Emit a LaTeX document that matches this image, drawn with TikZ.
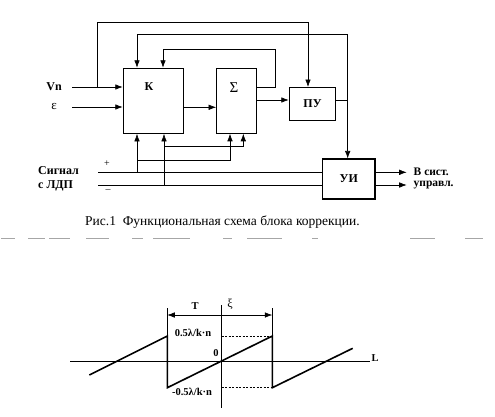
\documentclass[tikz,border=0pt]{standalone}
\usepackage{fontspec}
\setmainfont{Liberation Serif}
\usetikzlibrary{arrows.meta, positioning}

\begin{document}
\begin{tikzpicture}[
    x=1pt, y=-1pt,
    block/.style={rectangle, draw=black, line width=1.1pt, inner sep=0pt, font=\bfseries\fontsize{12}{13}\selectfont},
    wire/.style={line width=0.6pt},
    arrow/.style={wire, -{Latex[length=7.5pt,width=5.5pt]}},
    lbl/.style={font=\bfseries\fontsize{12}{13}\selectfont, inner sep=1pt},
    outlbl/.style={font=\bfseries\fontsize{11.5}{12}\selectfont, inner sep=0pt},
    glbl/.style={font=\bfseries\fontsize{10.5}{12}\selectfont, inner sep=1pt},
    saw/.style={line width=1.6pt},
    axis/.style={line width=0.6pt}
]
\useasboundingbox (0,0) rectangle (495,416);

% === Blocks ===
\node[block, minimum width=60pt, minimum height=65pt] (k) at (153.3,100.8) {};
\node[lbl] (klbl) at (149,87) {К};
\node[block, minimum width=40pt, minimum height=65pt] (sum) at (236.7,100.7) {};
\node[lbl, font=\fontsize{15}{16}\selectfont] (sumlbl) at (234,88) {Σ};
\node[block, minimum width=46.4pt, minimum height=32.5pt] (pu) at (312.5,103.8) {ПУ};
\node[block, minimum width=52.3pt, minimum height=40pt] (ui) at (348.8,179) {УИ};

% === Inputs ===
\node[lbl, anchor=east] (vnlbl) at (63,87) {Vn};
\node[lbl, font=\fontsize{13}{14}\selectfont] (epslbl) at (54,106) {ε};
\coordinate (vn) at (72,87);
\coordinate (eps) at (72,107);
\coordinate (vnb) at (97,87);
\draw[arrow] (vn) -- (vn -| k.west);
\draw[arrow] (eps) -- (eps -| k.west);
\draw[arrow] (vnb) -- (97,22) -| ([xshift=-4.5pt]pu.north);

% === Forward path ===
\draw[arrow] (k.east |- 0,107.3) -- (sum.west |- 0,107.3);
\draw[arrow] (sum.east |- 0,100) -- (pu.west |- 0,100);

% Sigma feedback to K
\coordinate (sfb) at (275.7,49);
\draw[arrow] (sum.east |- 0,87) -| (sfb) -| ([xshift=9.7pt]k.north);

% PU output to K and UI
\coordinate (puout) at (347.7,100);
\draw[wire] (pu.east |- puout) -- (puout);
\draw[arrow] (puout) -- (puout |- ui.north);
\draw[arrow] (puout) -- (347.7,34) -| ([xshift=-16.3pt]k.north);

% === Signal from LDP ===
\node[lbl, anchor=west] (sig1) at (37,171) {Сигнал};
\node[lbl, anchor=west] (sig2) at (37,185.5) {с ЛДП};
\node[font=\fontsize{10}{11}\selectfont, inner sep=0pt] (plus) at (107,164) {+};
\node[font=\fontsize{10}{11}\selectfont, inner sep=0pt] (minus) at (108,191) {–};
\coordinate (sp) at (98,172.7);
\coordinate (sm) at (98,185.7);
\draw[wire] (sp) -- (sp -| ui.west);
\draw[wire] (sm) -- (sm -| ui.west);

\coordinate (kp) at (137,172.7);
\coordinate (km) at (164,185.7);
\draw[arrow] (kp) -- (kp |- k.south);
\draw[arrow] (km) -- (km |- k.south);
\draw[arrow] (kp |- 0,160) -| ([xshift=-6.7pt]sum.south);
\draw[arrow] (km |- 0,146.7) -| ([xshift=6.6pt]sum.south);

% === Outputs ===
\coordinate (o1) at (406.7,172.3);
\coordinate (o2) at (406.7,185);
\draw[arrow] (ui.east |- o1) -- (o1);
\draw[arrow] (ui.east |- o2) -- (o2);
\node[outlbl, anchor=west] (out1) at (413.5,171.5) {В сист.};
\node[outlbl, anchor=west] (out2) at (413.5,185.5) {управл.};

% Caption
\node[font=\fontsize{13.5}{15}\selectfont] (caption) at (222.5,222) {Рис.1\ \ Функциональная схема блока коррекции.};

% Broken separator
\foreach \a/\b in {1/15, 28/45, 49/70, 86/109, 132/143, 153/190, 223/232, 247/282, 312/318, 410/435, 465/483}
  \draw[black!35, line width=0.6pt] (\a,238) -- (\b,238);

% === Sawtooth graph ===
\draw[axis] (70,361.7) -- (370,361.7);
\draw[axis] (221.7,305) -- (221.7,408.3);
\node[glbl] (llbl) at (375,358) {L};
\node[glbl] (zero) at (216,353) {0};

\draw[saw] (89.3,375) -- (167.3,336) -- (167.3,387.7) -- (272.3,336) -- (272.3,387.7) -- (352.7,348.3);

\draw[axis] (167.3,308.3) -- (167.3,336);
\draw[axis] (272.3,308.3) -- (272.3,336);
\draw[axis, {Latex[length=7.5pt,width=5.5pt]}-{Latex[length=7.5pt,width=5.5pt]}] (167.3,315) -- (272.3,315);
\node[glbl] (tlbl) at (195,306) {T};
\node[glbl, font=\fontsize{12}{13}\selectfont] (xilbl) at (230,304) {ξ};

\draw[axis, dashed, dash pattern=on 2pt off 1.5pt] (221.7,336) -- (272.3,336);
\draw[axis, dashed, dash pattern=on 2pt off 1.5pt] (221.7,387.7) -- (272.3,387.7);
\node[glbl] (uplbl) at (193,333) {0.5λ/k·n};
\node[glbl] (dnlbl) at (192,391.5) {-0.5λ/k·n};

\end{tikzpicture}
\end{document}
